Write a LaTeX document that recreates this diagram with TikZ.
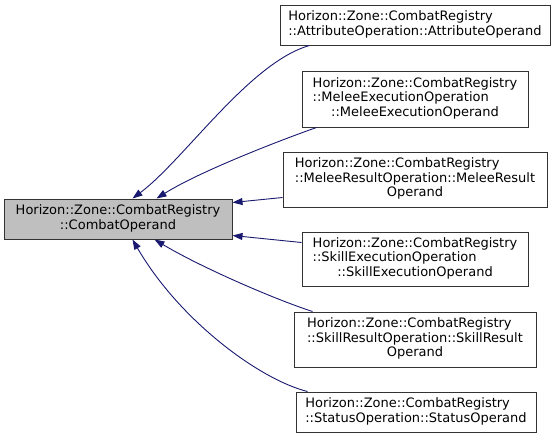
\documentclass[tikz,border=0pt]{standalone}
\usepackage{fontspec}
\setmainfont{DejaVu Sans}
\usetikzlibrary{arrows.meta}

\definecolor{edgeblue}{HTML}{191970}
\newcommand{\clslabel}[1]{\begin{tabular}{@{}l@{}}#1\end{tabular}}
\newcommand{\lastrow}[1]{\multicolumn{1}{@{}c@{}}{#1}}

\begin{document}
\begin{tikzpicture}[
    x = 1pt,
    y = -1pt,
    cls/.style = {draw=black!80, fill=white, inner sep=0pt, line width=1pt,
      minimum height=40pt, font=\fontsize{13}{14.5}\selectfont},
    current/.style = {cls, fill=gray!50},
    inherit/.style = {draw=edgeblue, line width=0.9pt,
      -{Triangle[length=10pt,width=7pt]}},
    ]
    \useasboundingbox (0, 0) rectangle (556, 439);
    % base class
    \node[current, minimum width=228pt] (base) at (118, 219)
    {\clslabel{Horizon::Zone::CombatRegistry\\ \lastrow{::CombatOperand}}};
    % derived classes
    \node[cls, minimum width=270pt] (attr) at (415, 25)
    {\clslabel{Horizon::Zone::CombatRegistry\\ \lastrow{::AttributeOperation::AttributeOperand}}};
    \node[cls, minimum width=226pt, minimum height=56pt] (mexec) at (415, 99)
    {\clslabel{Horizon::Zone::CombatRegistry\\ ::MeleeExecutionOperation\\ \lastrow{::MeleeExecutionOperand}}};
    \node[cls, minimum width=264pt, minimum height=55pt] (mres) at (415, 179.5)
    {\clslabel{Horizon::Zone::CombatRegistry\\ ::MeleeResultOperation::MeleeResult\\ \lastrow{Operand}}};
    \node[cls, minimum width=226pt, minimum height=54pt] (sexec) at (415, 259)
    {\clslabel{Horizon::Zone::CombatRegistry\\ ::SkillExecutionOperation\\ \lastrow{::SkillExecutionOperand}}};
    \node[cls, minimum width=242pt, minimum height=55pt] (sres) at (415, 339.5)
    {\clslabel{Horizon::Zone::CombatRegistry\\ ::SkillResultOperation::SkillResult\\ \lastrow{Operand}}};
    \node[cls, minimum width=240pt] (status) at (416, 412)
    {\clslabel{Horizon::Zone::CombatRegistry\\ \lastrow{::StatusOperation::StatusOperand}}};
    % inheritance edges
    \draw[inherit] ([xshift=30pt]attr.south west)
    .. controls +(-60, 17) and +(52, -39) .. ([xshift=129pt]base.north west);
    \draw[inherit] ([xshift=15pt]mexec.south west)
    .. controls +(-37, 13) and +(43, -27) .. ([xshift=153pt]base.north west);
    \draw[inherit] ([yshift=10pt]mres.south west) -- ([yshift=-4pt]base.north east);
    \draw[inherit] ([yshift=-11pt]sexec.north west) -- ([yshift=4pt]base.south east);
    \draw[inherit] ([xshift=19pt]sres.north west)
    .. controls +(-40, -13) and +(45, 27) .. ([xshift=151pt]base.south west);
    \draw[inherit] ([xshift=12pt]status.north west)
    .. controls +(-48, -12) and +(47, 81) .. ([xshift=129pt]base.south west);
  \end{tikzpicture}
\end{document}
